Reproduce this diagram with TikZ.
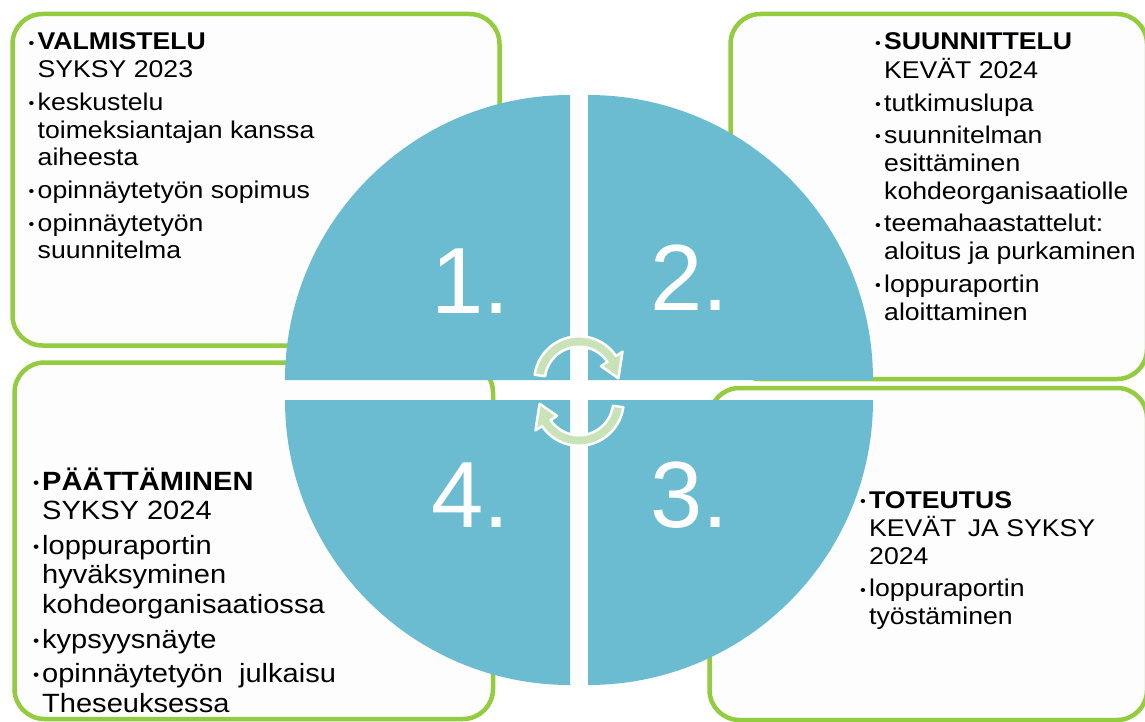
\documentclass[tikz,border=0pt]{standalone}
\usepackage{fontspec}
\setmainfont{Liberation Sans}[FakeStretch=1.1]
\newfontfamily\numfont{Liberation Sans}
\usetikzlibrary{calc}

\definecolor{framegreen}{HTML}{94CC40}
\definecolor{piefill}{HTML}{6BBCD1}
\definecolor{cyclegreen}{HTML}{C9E2B8}
\definecolor{boxfill}{HTML}{FDFDFD}

% small hanging bullet in front of each list item
\newcommand\bmark{\makebox[9pt][l]{\raisebox{1.8pt}{\fontsize{15}{15}\selectfont •}}}
\newcommand\bmarkbig{\makebox[9pt][l]{\raisebox{2pt}{\fontsize{16}{16}\selectfont •}}}

\begin{document}
\begin{tikzpicture}[x=1pt,y=-1pt,
  phasebox/.style={draw=framegreen, line width=4.5pt, fill=boxfill,
    rounded corners=30pt, inner sep=0pt},
  quarter/.style={fill=piefill},
  cyclearrow/.style={fill=cyclegreen, draw=white, line width=2.5pt, line join=round},
  num/.style={anchor=base west, inner sep=0pt, text=white,
    font=\numfont\fontsize{94}{94}\selectfont},
  listtext/.style={anchor=base west, inner sep=0pt,
    font=\fontsize{24.2}{27.8}\selectfont},
  listtextbig/.style={anchor=base west, inner sep=0pt,
    font=\fontsize{26.4}{29.7}\selectfont}]

\useasboundingbox (0,0) rectangle (1145,722);
\fill[white] (0,0) rectangle (1145,722);

% the four phase frames
\node[phasebox, minimum width=487pt, minimum height=331.5pt] (b1) at (256,179.75) {};
\node[phasebox, minimum width=416.5pt, minimum height=365pt] (b2) at (938.75,196.5) {};
\node[phasebox, minimum width=437.5pt, minimum height=332pt] (b3) at (928.25,554) {};
\node[phasebox, minimum width=478.5pt, minimum height=356.5pt] (b4) at (253.75,540.75) {};

% quartered disc
\fill[quarter] (570,380) -- (285,380) arc[start angle=180, end angle=270, radius=285] -- cycle;
\fill[quarter] (588,380) -- (588,95) arc[start angle=270, end angle=360, radius=285] -- cycle;
\fill[quarter] (588,400) -- (873,400) arc[start angle=0, end angle=90, radius=285] -- cycle;
\fill[quarter] (570,400) -- (570,685) arc[start angle=90, end angle=180, radius=285] -- cycle;

% circular arrows in the middle
\coordinate (ca) at (579,381);
\coordinate (cb) at (579,401);
\path[cyclearrow] ($(ca)+(-172:44.75)$) arc[start angle=-172, end angle=-34, radius=44.75]
  -- ($(ca)+(-34:52.5)$) -- ($(ca)+(-4:39.5)$) -- ($(ca)+(-34:26.5)$)
  -- ($(ca)+(-34:34.25)$) arc[start angle=-34, end angle=-172, radius=34.25] -- cycle;
\path[cyclearrow] ($(cb)+(8:44.75)$) arc[start angle=8, end angle=146, radius=44.75]
  -- ($(cb)+(146:52.5)$) -- ($(cb)+(176:39.5)$) -- ($(cb)+(146:26.5)$)
  -- ($(cb)+(146:34.25)$) arc[start angle=146, end angle=8, radius=34.25] -- cycle;

% phase numbers
\node[num] (n1) at (431,313) {1.};
\node[num] (n2) at (650,310) {2.};
\node[num] (n3) at (650,527) {3.};
\node[num] (n4) at (431,527) {4.};

% phase contents
\node[listtext] (t1) at (28.5,50) {\begin{tabular}[t]{@{}l@{}l@{}}
\bmark & \textbf{VALMISTELU}\\
 & SYKSY 2023\\[4.8pt]
\bmark & keskustelu\\
 & toimeksiantajan kanssa\\
 & aiheesta\\[4.8pt]
\bmark & opinnäytetyön sopimus\\[4.8pt]
\bmark & opinnäytetyön\\
 & suunnitelma
\end{tabular}};

\node[listtext] (t2) at (875,50) {\begin{tabular}[t]{@{}l@{}l@{}}
\bmark & \textbf{SUUNNITTELU}\\
 & KEVÄT 2024\\[4.8pt]
\bmark & tutkimuslupa\\[4.8pt]
\bmark & suunnitelman\\
 & esittäminen\\
 & kohdeorganisaatiolle\\[4.8pt]
\bmark & teemahaastattelut:\\
 & aloitus ja purkaminen\\[4.8pt]
\bmark & loppuraportin\\
 & aloittaminen
\end{tabular}};

\node[listtext] (t3) at (860,508) {\begin{tabular}[t]{@{}l@{}l@{}}
\bmark & \textbf{TOTEUTUS}\\
 & KEVÄT\ \,JA SYKSY\\
 & 2024\\[4.8pt]
\bmark & loppuraportin\\
 & työstäminen
\end{tabular}};

\node[listtextbig] (t4) at (33,490) {\begin{tabular}[t]{@{}l@{}l@{}}
\bmarkbig & \textbf{PÄÄTTÄMINEN}\\
 & SYKSY 2024\\[4.8pt]
\bmarkbig & loppuraportin\\
 & hyväksyminen\\
 & kohdeorganisaatiossa\\[4.8pt]
\bmarkbig & kypsyysnäyte\\[4.8pt]
\bmarkbig & opinnäytetyön\ \ julkaisu\\
 & Theseuksessa
\end{tabular}};

\end{tikzpicture}
\end{document}
